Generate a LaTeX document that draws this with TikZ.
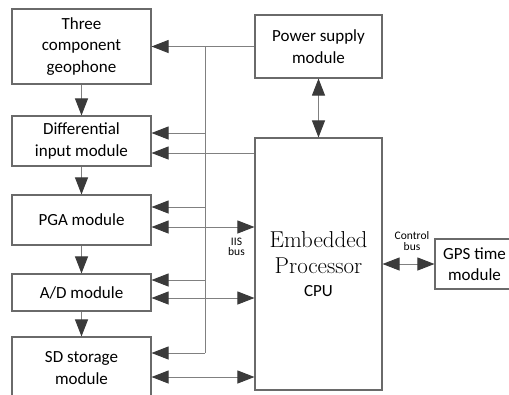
\documentclass[tikz,border=0pt]{standalone}
\usepackage{fontspec}
\setsansfont{Carlito}
\newcommand{\cpusans}{\sffamily\fontsize{17}{21.5}\selectfont}
\usetikzlibrary{arrows.meta}
\definecolor{linec}{HTML}{808080}
\definecolor{boxc}{HTML}{6A6A6A}
\definecolor{tipc}{HTML}{3A3A3A}
\tikzset{
  x=1pt,y=-1pt,
  blk/.style={draw=boxc,line width=1.1pt,inner sep=0pt,align=center,
    font=\sffamily\fontsize{17}{21.5}\selectfont,fill=white},
  tp/.tip={Triangle[length=17pt,width=13pt,color=tipc,fill=tipc]},
  conn/.style={draw=linec,line width=0.9pt},
  arr/.style={conn,-tp},
  darr/.style={conn,tp-tp},
  small/.style={font=\sffamily\fontsize{11.5}{10.5}\selectfont,align=center,inner sep=0pt}
}
\begin{document}
\begin{tikzpicture}
\useasboundingbox (0,0) rectangle (509,394);
\begin{scope}
\clip (0,0) rectangle (509,394);
\node[blk,minimum width=139pt,minimum height=75pt] (geo) at (81.5,46.5) {Three\\component\\geophone};
\node[blk,minimum width=139pt,minimum height=50pt] (diff) at (81.5,141) {Differential\\input module};
\node[blk,minimum width=139pt,minimum height=50pt] (pga) at (81.5,220) {PGA module};
\node[blk,minimum width=139pt,minimum height=37pt] (ad) at (81.5,292.5) {A/D module};
\node[blk,minimum width=139pt,minimum height=62pt] (sd) at (81.5,368) {SD storage\\module};
\node[blk,minimum width=127pt,minimum height=63pt] (pow) at (318.5,46.5) {Power supply\\module};
\node[blk,minimum width=127pt,minimum height=252pt,font=\rmfamily\fontsize{23}{26}\selectfont] (cpu) at (318.5,264) {Embedded\\Processor\\[-3pt]\cpusans CPU};
\node[blk,minimum width=79pt,minimum height=50pt] (gps) at (474.5,264) {GPS time\\module};

\coordinate (bt) at (205,46.5);
\coordinate (bb) at (205,353);
\draw[arr] (pow.west) -- (geo.east);
\draw[conn] (bt) -- (bb);
\draw[arr] (bt |- 0,133) -- (diff.east |- 0,133);
\draw[arr] (bt |- 0,207) -- (pga.east |- 0,207);
\draw[arr] (bt |- 0,280) -- (ad.east |- 0,280);
\draw[arr] (bb) -- (sd.east |- bb);
\draw[arr] (cpu.west |- 0,153) -- (diff.east |- 0,153);
\draw[darr] (pga.east |- 0,227) -- (cpu.west |- 0,227);
\draw[darr] (ad.east |- 0,298) -- (cpu.west |- 0,298);
\draw[darr] (sd.east |- 0,377) -- (cpu.west |- 0,377);
\draw[darr] (pow.south) -- (cpu.north);
\draw[darr] (cpu.east) -- (gps.west);
\draw[arr] (geo.south) -- (diff.north);
\draw[arr] (diff.south) -- (pga.north);
\draw[arr] (pga.south) -- (ad.north);
\draw[arr] (ad.south) -- (sd.north);
\node[small] (iis) at (236.5,247) {IIS\\bus};
\node[small] (ctl) at (412,241) {Control\\bus};
\end{scope}
\end{tikzpicture}
\end{document}
